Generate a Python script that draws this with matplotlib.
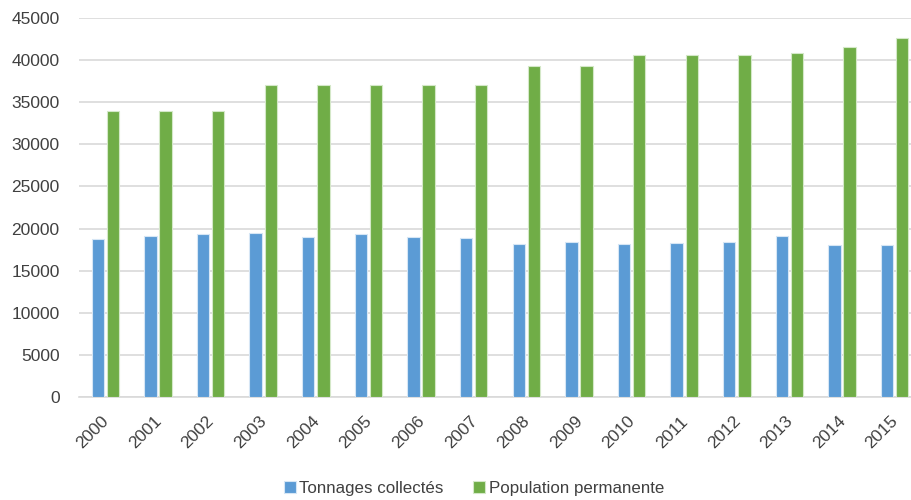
import matplotlib
matplotlib.use("Agg")
import matplotlib.pyplot as plt
import matplotlib.transforms as mtransforms
import numpy as np

years = ["2000", "2001", "2002", "2003", "2004", "2005", "2006", "2007",
         "2008", "2009", "2010", "2011", "2012", "2013", "2014", "2015"]
tonnages = [18760, 19150, 19390, 19470, 18950, 19350, 18950, 18870,
            18200, 18440, 18160, 18280, 18400, 19110, 18080, 18000]
population = [34000, 34000, 34000, 37000, 37000, 37000, 37000, 37000,
              39250, 39250, 40600, 40600, 40600, 40900, 41550, 42600]
series_names = ["Tonnages collectés", "Population permanente"]

plt.rcParams['font.family'] = ['Liberation Sans', 'DejaVu Sans']

fig = plt.figure(figsize=(9.11, 5.0), dpi=100)
ax = fig.add_axes([79/911, 1 - 397/500, 842/911, (397 - 18)/500])

x = np.arange(len(years))
w = 0.235
off = 0.143
ax.bar(x - off, tonnages, width=w, color="#5B9BD5", edgecolor="#d6e6f5",
       linewidth=0.8, label=series_names[0], zorder=3)
ax.bar(x + off, population, width=w, color="#70AD47", edgecolor="#d4e8c8",
       linewidth=0.8, label=series_names[1], zorder=3)

ax.set_xlim(-0.5, len(years) - 0.5)
ax.set_ylim(0, 45000)
ax.set_yticks(np.arange(0, 45001, 5000))
ax.yaxis.grid(True, color="#d9d9d9", linewidth=1.2, zorder=0)
ax.set_axisbelow(True)
for s in ["top", "right", "left"]:
    ax.spines[s].set_visible(False)
ax.spines["bottom"].set_color("#d9d9d9")
ax.spines["bottom"].set_linewidth(1.2)
ax.tick_params(axis="both", length=0, colors="#404040", labelsize=12.5)
ax.tick_params(axis="y", pad=14)

ax.set_xticks(x)
ax.set_xticklabels(years, rotation=45, ha="right", va="center",
                   rotation_mode="anchor")
shift = mtransforms.ScaledTranslation(1/100, -17/100, fig.dpi_scale_trans)
for lbl in ax.get_xticklabels():
    lbl.set_transform(lbl.get_transform() + shift)

leg = fig.legend(loc="center", bbox_to_anchor=(474/911, 1 - 488/500), ncol=2,
                 frameon=False, fontsize=12.2, handlelength=0.7,
                 handleheight=0.7, handletextpad=0.2, columnspacing=1.75)
for t in leg.get_texts():
    t.set_color("#404040")

fig.savefig("out.png", dpi=100)
